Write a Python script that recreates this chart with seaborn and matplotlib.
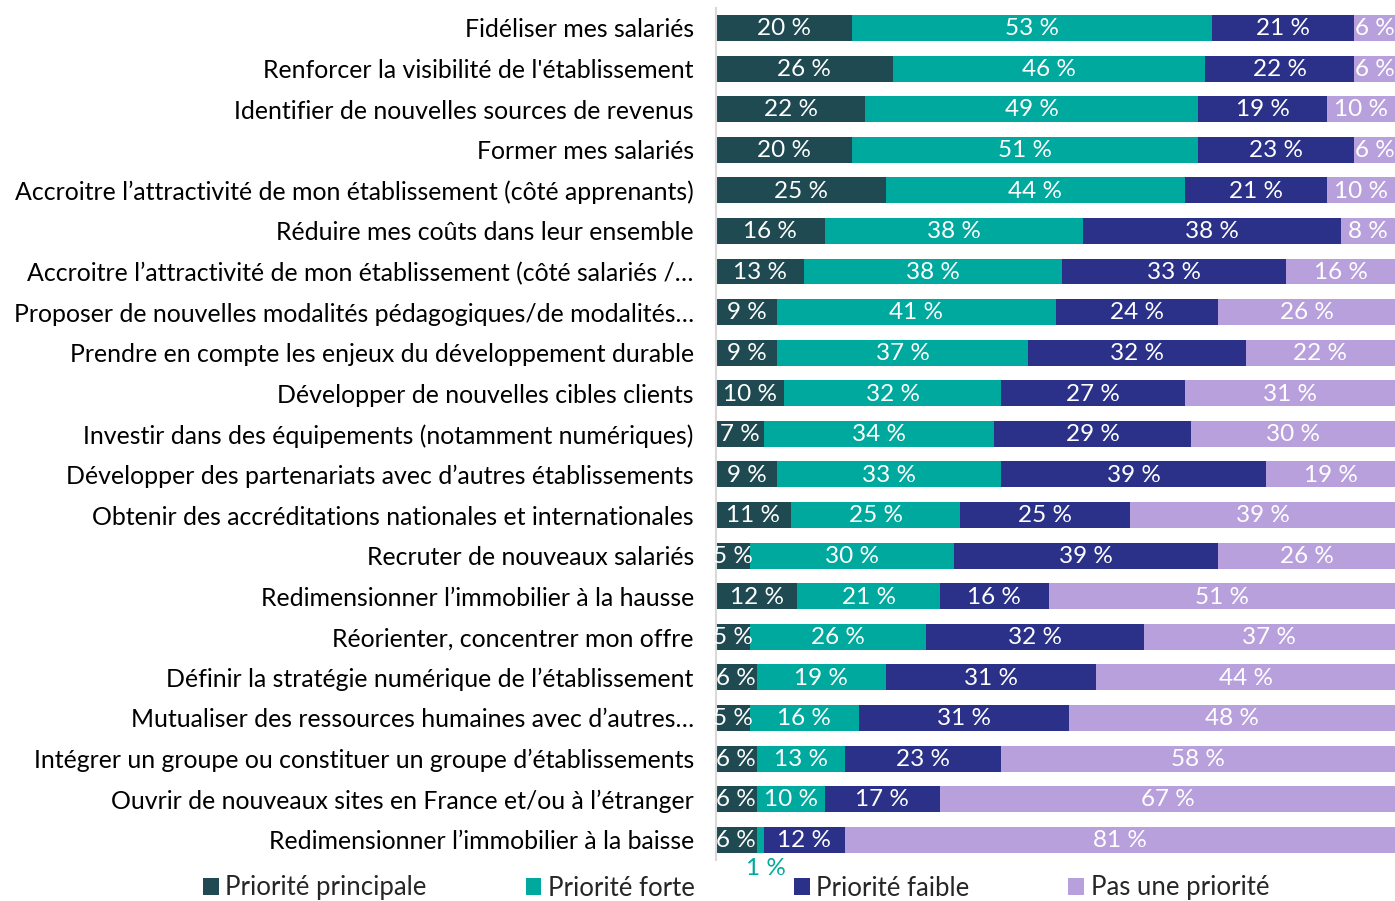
import matplotlib
matplotlib.use("Agg")
import matplotlib.pyplot as plt
from matplotlib.patches import Patch
import seaborn as sns
import numpy as np
import pandas as pd

categories = [
    "Fidéliser mes salariés",
    "Renforcer la visibilité de l'établissement",
    "Identifier de nouvelles sources de revenus",
    "Former mes salariés",
    "Accroitre l’attractivité de mon établissement (côté apprenants)",
    "Réduire mes coûts dans leur ensemble",
    "Accroitre l’attractivité de mon établissement (côté salariés /…",
    "Proposer de nouvelles modalités pédagogiques/de modalités…",
    "Prendre en compte les enjeux du développement durable",
    "Développer de nouvelles cibles clients",
    "Investir dans des équipements (notamment numériques)",
    "Développer des partenariats avec d’autres établissements",
    "Obtenir des accréditations nationales et internationales",
    "Recruter de nouveaux salariés",
    "Redimensionner l’immobilier à la hausse",
    "Réorienter, concentrer mon offre",
    "Définir la stratégie numérique de l’établissement",
    "Mutualiser des ressources humaines avec d’autres…",
    "Intégrer un groupe ou constituer un groupe d’établissements",
    "Ouvrir de nouveaux sites en France et/ou à l’étranger",
    "Redimensionner l’immobilier à la baisse",
]
priorite_principale = [20, 26, 22, 20, 25, 16, 13, 9, 9, 10, 7, 9, 11, 5, 12, 5, 6, 5, 6, 6, 6]
priorite_forte      = [53, 46, 49, 51, 44, 38, 38, 41, 37, 32, 34, 33, 25, 30, 21, 26, 19, 16, 13, 10, 1]
priorite_faible     = [21, 22, 19, 23, 21, 38, 33, 24, 32, 27, 29, 39, 25, 39, 16, 32, 31, 31, 23, 17, 12]
pas_une_priorite    = [6, 6, 10, 6, 10, 8, 16, 26, 22, 31, 30, 19, 39, 26, 51, 37, 44, 48, 58, 67, 81]

series_names = ["Priorité principale", "Priorité forte", "Priorité faible", "Pas une priorité"]
colors = ["#1f4a52", "#00a99d", "#2b3188", "#b8a0dc"]

FONT = "Lato"
sns.set_theme(style="white")
plt.rcParams["font.family"] = [FONT, "DejaVu Sans"]

series = [priorite_principale, priorite_forte, priorite_faible, pas_une_priorite]
vals = np.array(series, dtype=float)
cum = np.cumsum(vals, axis=0)

df = pd.DataFrame({"cat": categories})
for i, name in enumerate(series_names):
    df[name] = cum[i]

fig = plt.figure(figsize=(13.95, 9.01), dpi=100)
ax = fig.add_axes([716 / 1395, 41 / 901, 1 - 716 / 1395, (860 - 7.7) / 901])

# draw cumulative bars back to front to produce a stacked look
for i in range(3, -1, -1):
    sns.barplot(data=df, y="cat", x=series_names[i], color=colors[i],
                orient="h", width=0.64, ax=ax, saturation=1, linewidth=0)

ax.set_xlim(0, 100)
ax.set_ylim(len(categories) - 0.5, -0.5)
ax.set_xlabel("")
ax.set_ylabel("")
ax.set_xticks([])
for s in ["top", "right", "bottom"]:
    ax.spines[s].set_visible(False)
ax.spines["left"].set_color("#d9d9d9")
ax.spines["left"].set_linewidth(1.5)
ax.tick_params(axis="y", length=0, pad=16, labelsize=17.9, colors="#000000")

# value labels
for i in range(4):
    for j in range(len(categories)):
        v = vals[i, j]
        left = cum[i, j] - v
        xc = left + v / 2
        label = f"{int(v)} %"
        if v < 3:
            ax.text(xc + 0.8, j + 0.72, label, ha="center", va="center",
                    color=colors[i], fontsize=17.5, clip_on=False)
        else:
            ax.text(xc, j + 0.02, label, ha="center", va="center",
                    color="white", fontsize=17.5)

handles = [Patch(facecolor=c, edgecolor="none", label=n) for c, n in zip(colors, series_names)]
fig.legend(handles=handles, loc="center", bbox_to_anchor=(736 / 1395, 1 - 888 / 901),
           ncol=4, frameon=False, fontsize=18.5, handlelength=0.62, handleheight=0.62,
           handletextpad=0.25, columnspacing=3.85, borderaxespad=0, borderpad=0)

fig.savefig("out.png", dpi=100)
